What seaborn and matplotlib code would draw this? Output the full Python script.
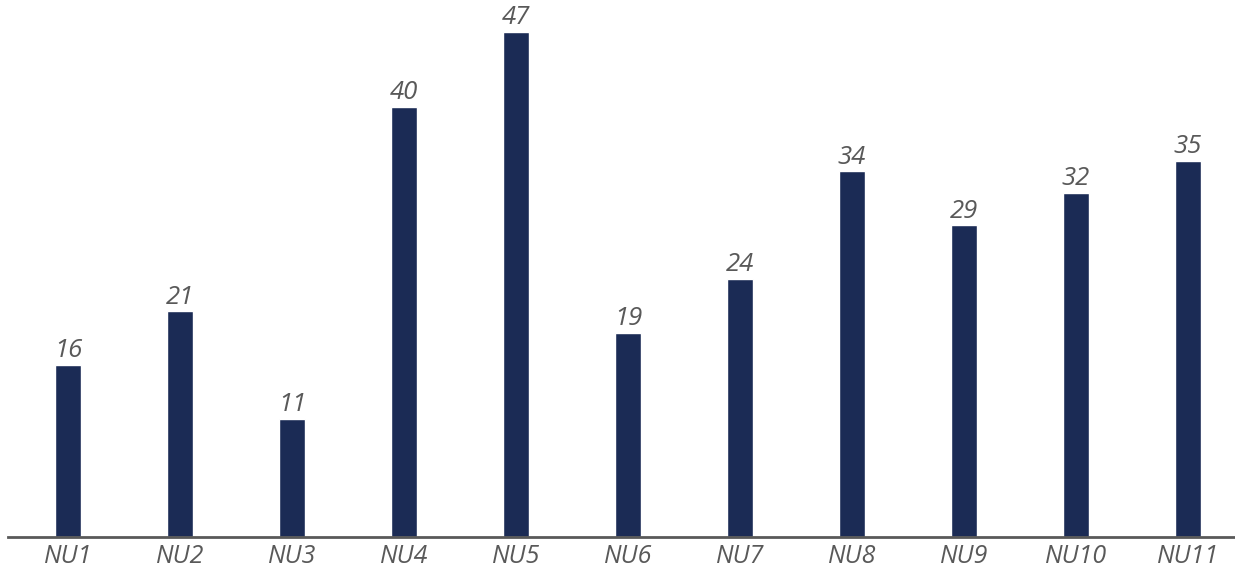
import matplotlib
matplotlib.use("Agg")
import matplotlib.pyplot as plt
import seaborn as sns
import pandas as pd

# chart data
categories = ["NU1", "NU2", "NU3", "NU4", "NU5", "NU6", "NU7", "NU8", "NU9", "NU10", "NU11"]
values = [16, 21, 11, 40, 47, 19, 24, 34, 29, 32, 35]

df = pd.DataFrame({"unit": categories, "value": values})

sns.set_style("white")
plt.rcParams['font.family'] = ['Open Sans', 'DejaVu Sans']

fig = plt.figure(figsize=(12.35, 5.69), dpi=100)
ax = fig.add_axes([8 / 1235, 32 / 569, 1 - 8 / 1235, 537 / 569])

sns.barplot(data=df, x="unit", y="value", color="#1b2b55", width=0.23,
            saturation=1, ax=ax)

ax.set_xlim(-0.536, 10.42)
ax.set_ylim(0, 49.95)

for i, v in enumerate(values):
    ax.text(i, v + 0.15, str(v), ha="center", va="bottom", fontsize=18.5,
            style="italic", color="#595959")

for s in ["top", "right", "left"]:
    ax.spines[s].set_visible(False)
ax.spines["bottom"].set_color("#595959")
ax.spines["bottom"].set_linewidth(2)

ax.set_yticks([])
ax.set_xlabel("")
ax.set_ylabel("")
ax.tick_params(axis="x", length=0, pad=5)
for lbl in ax.get_xticklabels():
    lbl.set_fontsize(18)
    lbl.set_style("italic")
    lbl.set_color("#595959")

fig.savefig("out.png", dpi=100)
